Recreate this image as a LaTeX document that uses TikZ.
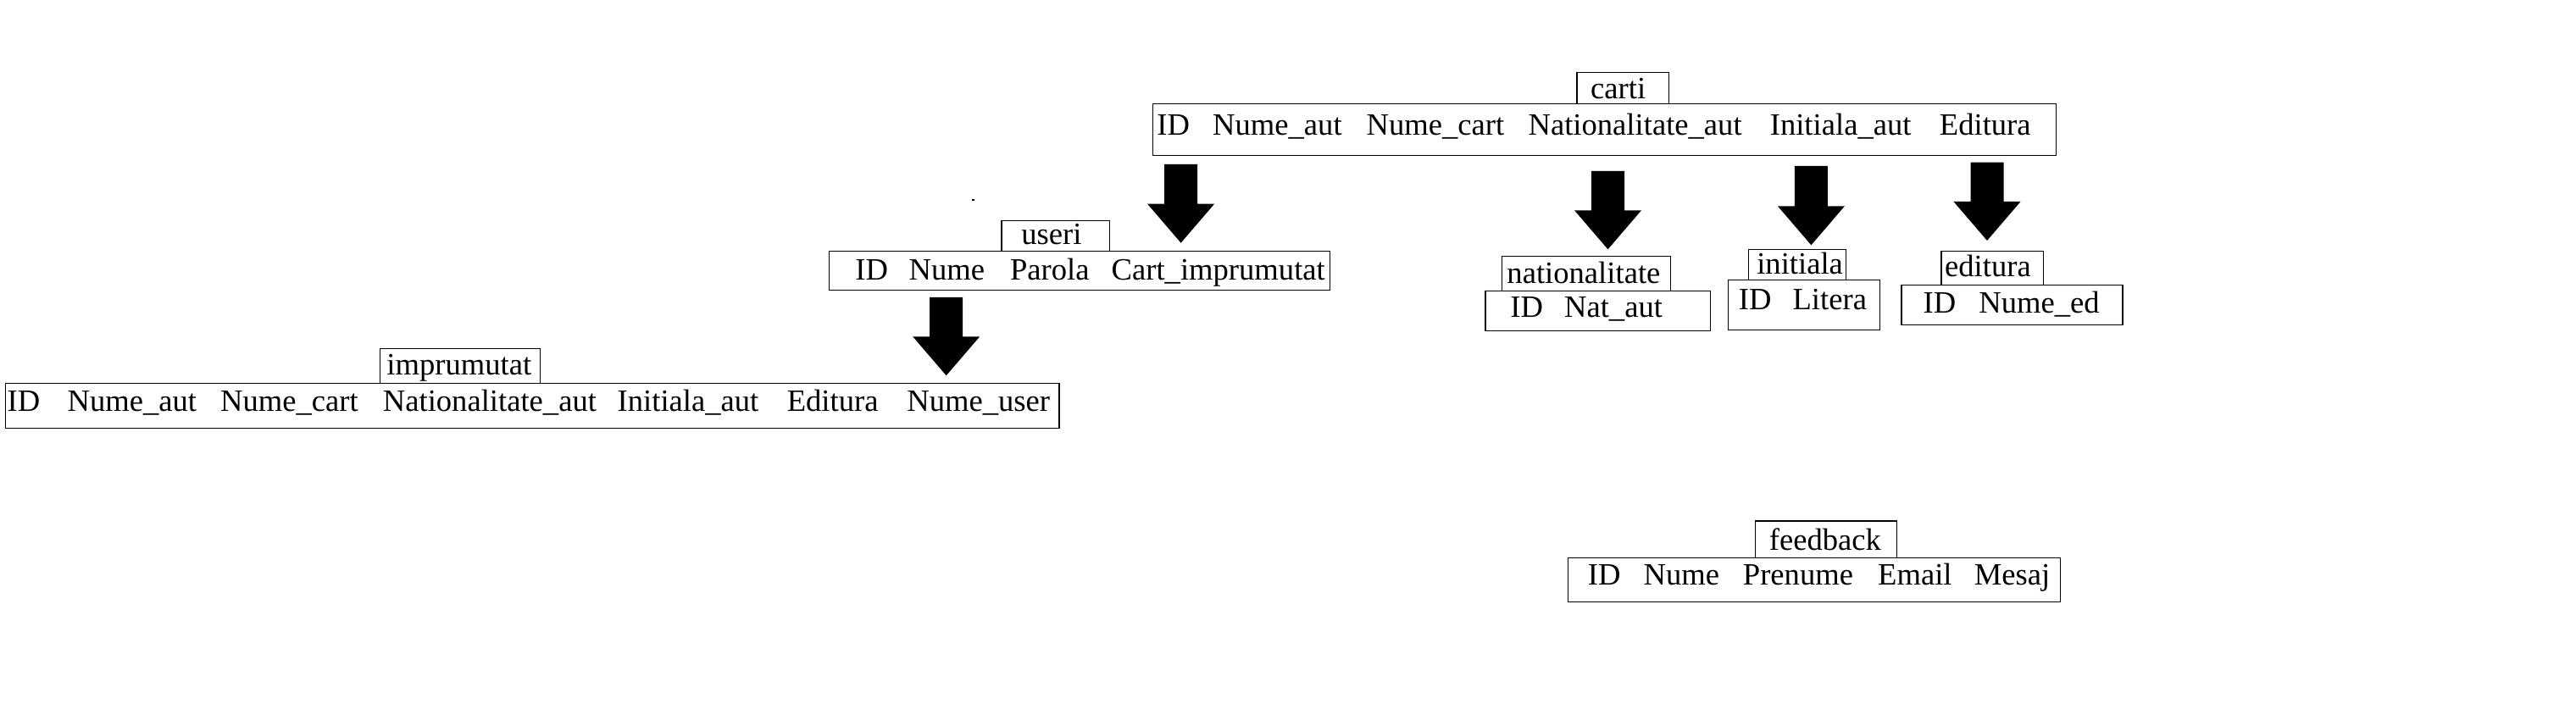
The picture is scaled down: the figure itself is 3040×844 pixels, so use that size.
\documentclass[tikz,border=0pt]{standalone}
\usepackage{fontspec}
\setmainfont{Liberation Serif}
\usetikzlibrary{calc}
\newcommand\tblbox[5]{\node[box, minimum width={(#4-(#2))*0.5pt}, minimum height={(#5-(#3))*0.5pt}] (#1) at (#2,#3) {};}
\newcommand\fieldrow[3]{\foreach \xx/\ww [count=\k] in {#3} {\node[fld] (#1-\k) at (\xx,#2) {\ww};}}
\newcommand\blockarrow[2]{\fill[black] ($(#1)+(-19.5,0)$) -- ($(#1)+(19.5,0)$) -- ($(#2)+(19.5,-46)$) -- ($(#2)+(39.5,-46)$) -- (#2) -- ($(#2)+(-39.5,-46)$) -- ($(#2)+(-19.5,-46)$) -- cycle;}
\begin{document}
\begin{tikzpicture}[x=0.5pt,y=-0.5pt,
  box/.style={draw=black, line width=0.6pt, inner sep=0pt, anchor=north west},
  fld/.style={anchor=base west, inner sep=0pt, font=\fontsize{18.3}{22}\selectfont},
  ttl/.style={anchor=base, inner sep=0pt, font=\fontsize{18.3}{22}\selectfont}]
\useasboundingbox (0,0) rectangle (3040,844);
\fill[white] (0,0) rectangle (3040,844);

% carti
\tblbox{cartiT}{1860.4}{85}{1969}{122.3}
\tblbox{carti}{1360}{122.3}{2425.7}{182.7}
\node[ttl] (cartiT-t) at (1909.7,116.7) {carti};
\fieldrow{carti}{159.3}{1365/ID, 1430.8/Nume\_aut, 1612.3/Nume\_cart, 1803.2/Nationalitate\_aut, 2088.4/Initiala\_aut, 2288.5/Editura}

% useri
\tblbox{useriT}{1181.4}{260}{1308.9}{296}
\tblbox{useri}{977.6}{296}{1568.7}{341.7}
\node[ttl] (useriT-t) at (1241,288.3) {useri};
\fieldrow{useri}{330.7}{1009/ID, 1072.3/Nume, 1191.6/Parola, 1311.3/Cart\_imprumutat}

% imprumutat
\tblbox{imprT}{447.5}{410.7}{636.9}{451.5}
\tblbox{impr}{5.7}{451.5}{1249.3}{505}
\node[ttl] (imprT-t) at (541.8,442.7) {imprumutat};
\fieldrow{impr}{485.5}{8.2/ID, 79.2/Nume\_aut, 259.7/Nume\_cart, 451.5/Nationalitate\_aut, 728.3/Initiala\_aut, 928.4/Editura, 1070/Nume\_user}

% nationalitate
\tblbox{natT}{1772.2}{302.3}{1970.7}{342.7}
\tblbox{nat}{1752.3}{342.7}{2017.7}{390}
\node[ttl] (natT-t) at (1868.9,334.3) {nationalitate};
\fieldrow{nat}{374.3}{1781.9/ID, 1845.7/Nat\_aut}

% initiala
\tblbox{iniT}{2062.6}{294.3}{2178}{330.3}
\tblbox{ini}{2038.6}{330.3}{2217.8}{389}
\node[ttl] (iniT-t) at (2124.1,323.3) {initiala};
\fieldrow{ini}{366}{2051.4/ID, 2115.2/Litera}

% editura
\tblbox{edT}{2290.3}{296}{2410.7}{336}
\tblbox{ed}{2243.3}{336}{2504.3}{383.3}
\node[ttl] (edT-t) at (2345.9,326.7) {editura};
\fieldrow{ed}{370}{2269.3/ID, 2335/Nume\_ed}

% feedback
\tblbox{fbT}{2070.8}{614.3}{2237.5}{658}
\tblbox{fb}{1850.2}{658}{2430.7}{710}
\node[ttl] (fbT-t) at (2153.9,649.3) {feedback};
\fieldrow{fb}{690.7}{1873.5/ID, 1939.3/Nume, 2056.5/Prenume, 2215.8/Email, 2329.4/Mesaj}

% block arrows
\coordinate (a1s) at (1393.6,194);   \coordinate (a1t) at (1393.6,286.7);
\coordinate (a2s) at (1897.5,202);   \coordinate (a2t) at (1897.5,294.3);
\coordinate (a3s) at (2137.4,196);   \coordinate (a3t) at (2137.4,289.3);
\coordinate (a4s) at (2345,191.7);   \coordinate (a4t) at (2345,284);
\coordinate (a5s) at (1116.7,351);   \coordinate (a5t) at (1116.7,443.3);
\blockarrow{a1s}{a1t}
\blockarrow{a2s}{a2t}
\blockarrow{a3s}{a3t}
\blockarrow{a4s}{a4t}
\blockarrow{a5s}{a5t}

% stray mark
\fill[black] (1146.5,235.5) rectangle (1149.5,237.5);
\end{tikzpicture}
\end{document}
